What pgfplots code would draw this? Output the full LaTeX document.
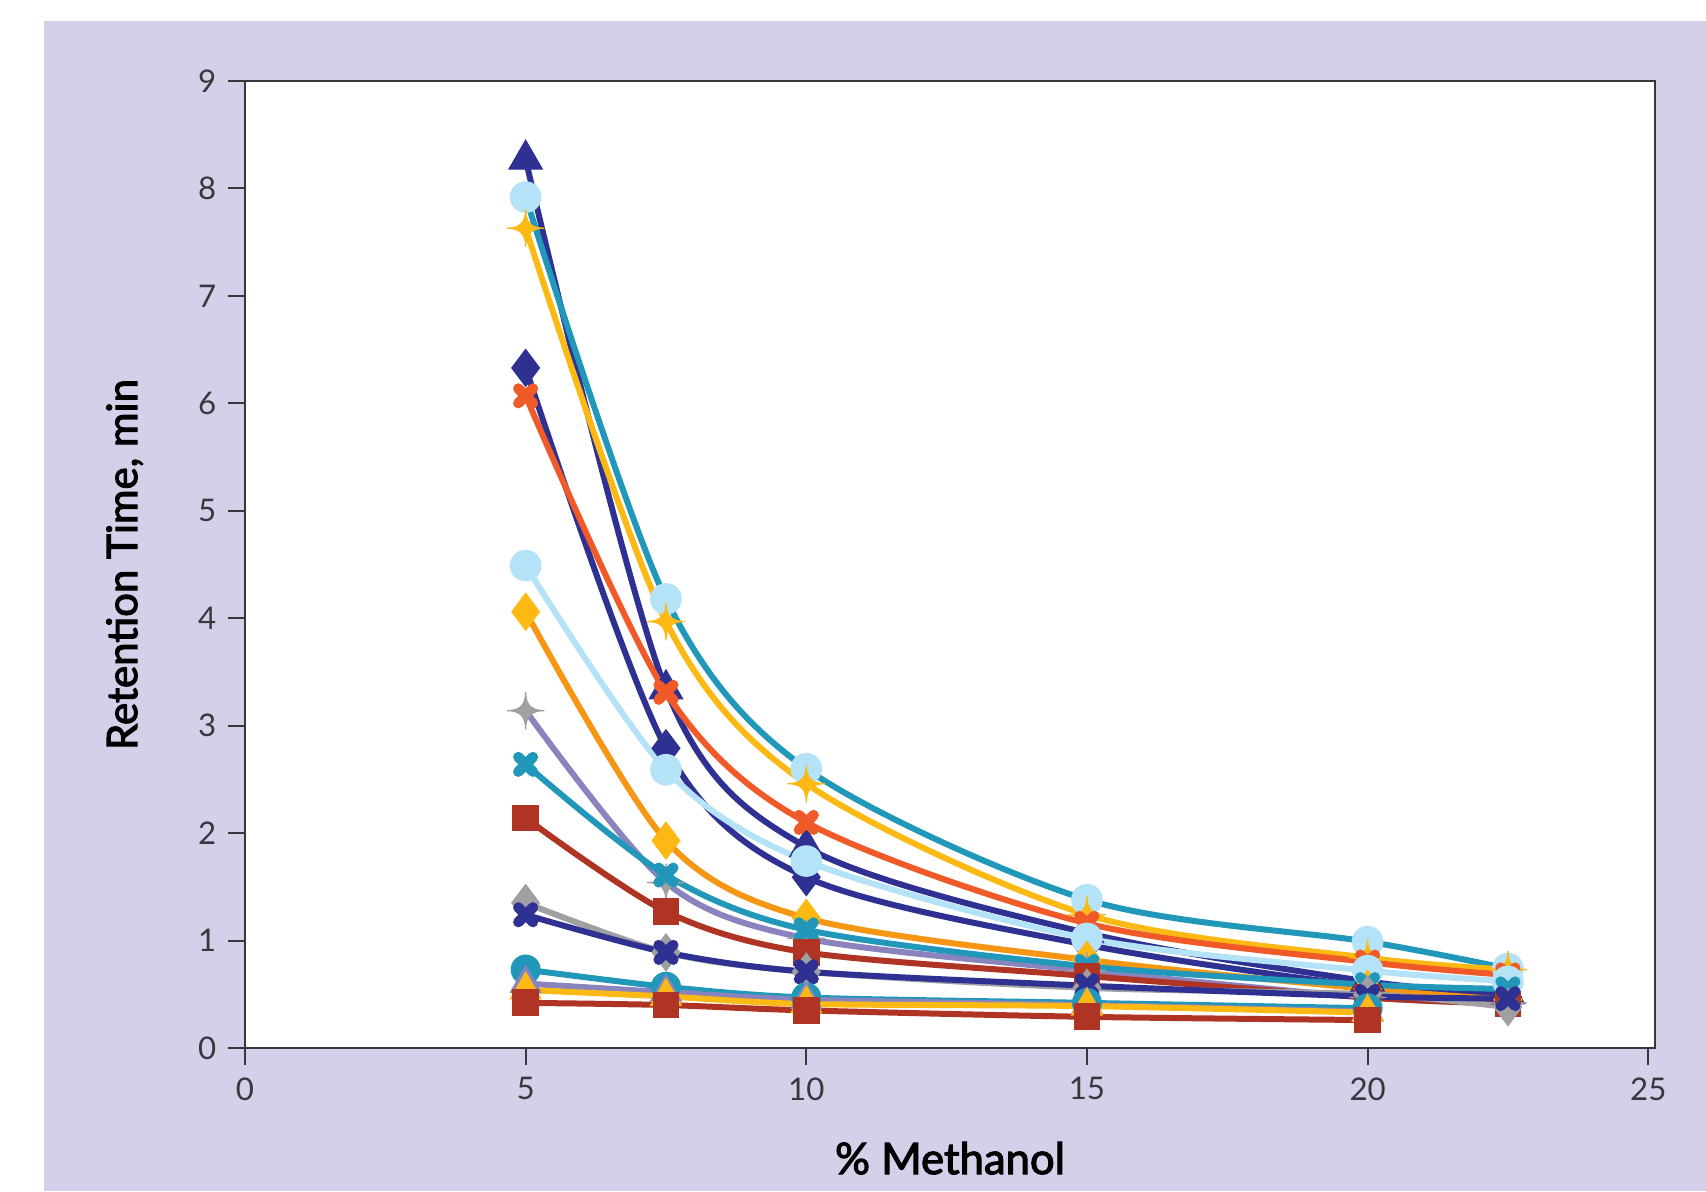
\documentclass[border=0pt]{standalone}
\usepackage{fontspec}
\setmainfont{Lato}
\newfontfamily\labfont{Lato}[FakeBold=2.6]
\usepackage{pgfplots}
\pgfplotsset{compat=1.18}
\definecolor{navy}{RGB}{46,49,146}
\definecolor{teal1}{RGB}{33,152,186}
\definecolor{lblue}{RGB}{180,226,247}
\definecolor{gold}{RGB}{253,185,19}
\definecolor{orng}{RGB}{245,150,20}
\definecolor{ored}{RGB}{240,90,40}
\definecolor{rbrown}{RGB}{175,52,35}
\definecolor{greyc}{RGB}{160,160,163}
\definecolor{lav}{RGB}{137,132,190}
\definecolor{bg}{RGB}{211,209,233}
\definecolor{axc}{RGB}{55,55,60}
\pgfdeclareplotmark{star4}{%
 \pgfpathmoveto{\pgfqpoint{0pt}{\pgfplotmarksize}}%
 \pgfpathcurveto{\pgfqpoint{0pt}{0.3\pgfplotmarksize}}{\pgfqpoint{0.3\pgfplotmarksize}{0pt}}{\pgfqpoint{\pgfplotmarksize}{0pt}}%
 \pgfpathcurveto{\pgfqpoint{0.3\pgfplotmarksize}{0pt}}{\pgfqpoint{0pt}{-0.3\pgfplotmarksize}}{\pgfqpoint{0pt}{-\pgfplotmarksize}}%
 \pgfpathcurveto{\pgfqpoint{0pt}{-0.3\pgfplotmarksize}}{\pgfqpoint{-0.3\pgfplotmarksize}{0pt}}{\pgfqpoint{-\pgfplotmarksize}{0pt}}%
 \pgfpathcurveto{\pgfqpoint{-0.3\pgfplotmarksize}{0pt}}{\pgfqpoint{0pt}{0.3\pgfplotmarksize}}{\pgfqpoint{0pt}{\pgfplotmarksize}}%
 \pgfpathclose\pgfusepathqfillstroke}
\begin{document}
\begin{tikzpicture}
\path[use as bounding box] (-61.25pt,-35.75pt) rectangle (365.25pt,262pt);
\fill[bg] (-50.25pt,-35.75pt) rectangle (365.25pt,256.75pt);
\begin{axis}[
  at={(0pt,0pt)}, anchor=south west,
  scale only axis, width=352.5pt, height=241.75pt,
  xmin=0, xmax=25.12, ymin=0, ymax=9,
  xtick={0,5,10,15,20,25}, ytick={0,1,...,9},
  xtick pos=bottom, ytick pos=left,
  tick align=outside, major tick length=4.25pt,
  axis line style={axc, line width=0.7pt},
  tick style={axc, line width=0.5pt},
  axis background/.style={fill=white},
  /pgf/number format/assume math mode=true,
  ticklabel style={font=\fontsize{7.8}{9}\selectfont, text=axc},
  xticklabel style={yshift=0.4pt},
  yticklabel style={xshift=0.6pt},
  xlabel={\labfont\fontsize{10.9}{12}\selectfont\% Methanol}, ylabel={\labfont\fontsize{10.5}{12}\selectfont Retention Time, min},
  label style={text=black!85},
  every axis x label/.style={at={(axis description cs:0.5,-0.114)}, anchor=center},
  every axis y label/.style={at={(axis description cs:-0.0854,0.5)}, anchor=center, rotate=90},
  every axis plot/.append style={line width=1.5pt, smooth},
  clip=false,
]
% S1 navy triangle
\addplot[navy, mark=triangle*, mark size=4.8pt, mark options={solid, line width=0.3pt}] coordinates {(5,8.27) (7.5,3.34) (10,1.87) (15,1.07) (20,0.62) (22.5,0.50)};
% S2 teal line, light blue circle
\addplot[teal1, mark=*, mark size=3.8pt, mark options={solid, fill=lblue, draw=lblue, line width=0.3pt}] coordinates {(5,7.92) (7.5,4.18) (10,2.60) (15,1.38) (20,0.99) (22.5,0.74)};
% S3 gold star
\addplot[gold, mark=star4, mark size=4.7pt, mark options={solid, fill=gold, draw=gold, line width=0.3pt}] coordinates {(5,7.63) (7.5,3.97) (10,2.46) (15,1.24) (20,0.84) (22.5,0.73)};
% S4 navy diamond
\addplot[navy, mark=diamond*, mark size=4.6pt, mark options={solid, line width=0.3pt}] coordinates {(5,6.33) (7.5,2.79) (10,1.59) (15,0.96) (20,0.57) (22.5,0.47)};
% S5 orange-red x
\addplot[ored, mark=x, mark size=2.6pt, mark options={solid, line width=2.6pt, line cap=round}] coordinates {(5,6.07) (7.5,3.31) (10,2.10) (15,1.16) (20,0.80) (22.5,0.68)};
% S6 light blue circle
\addplot[lblue, mark=*, mark size=3.8pt, mark options={solid, fill=lblue, draw=lblue, line width=0.3pt}] coordinates {(5,4.49) (7.5,2.59) (10,1.74) (15,1.02) (20,0.72) (22.5,0.62)};
% S7 orange line gold diamond
\addplot[orng, mark=diamond*, mark size=4.6pt, mark options={solid, fill=gold, draw=gold, line width=0.3pt}] coordinates {(5,4.06) (7.5,1.93) (10,1.21) (15,0.82) (20,0.55) (22.5,0.45)};
% S8 lavender line grey star
\addplot[lav, mark=star4, mark size=4.7pt, mark options={solid, fill=greyc, draw=greyc, line width=0.3pt}] coordinates {(5,3.14) (7.5,1.54) (10,1.02) (15,0.72) (20,0.47) (22.5,0.42)};
% S9 teal x
\addplot[teal1, mark=x, mark size=2.6pt, mark options={solid, line width=2.6pt, line cap=round}] coordinates {(5,2.64) (7.5,1.61) (10,1.10) (15,0.76) (20,0.59) (22.5,0.55)};
% S10 red-brown square
\addplot[rbrown, mark=square*, mark size=3.2pt, mark options={solid, line width=0.3pt}] coordinates {(5,2.14) (7.5,1.27) (10,0.89) (15,0.67) (20,0.47) (22.5,0.41)};
% S11 grey diamond
\addplot[greyc, mark=diamond*, mark size=4.6pt, mark options={solid, line width=0.3pt}] coordinates {(5,1.35) (7.5,0.89) (10,0.71) (15,0.56) (20,0.50) (22.5,0.38)};
% S12 navy x
\addplot[navy, mark=x, mark size=2.6pt, mark options={solid, line width=2.6pt, line cap=round}] coordinates {(5,1.24) (7.5,0.89) (10,0.71) (15,0.58) (20,0.48) (22.5,0.46)};
% S13 teal circle
\addplot[teal1, mark=*, mark size=3.6pt, mark options={solid, line width=0.3pt}] coordinates {(5,0.73) (7.5,0.57) (10,0.47) (15,0.42) (20,0.37)};
% S14 lavender triangle
\addplot[lav, mark=triangle*, mark size=4.4pt, mark options={solid, line width=0.3pt}] coordinates {(5,0.60) (7.5,0.52) (10,0.45) (15,0.40) (20,0.34)};
% S15 gold triangle
\addplot[gold, mark=triangle*, mark size=4.4pt, mark options={solid, line width=0.3pt}] coordinates {(5,0.54) (7.5,0.48) (10,0.41) (15,0.39) (20,0.33)};
% S16 red-brown square low
\addplot[rbrown, mark=square*, mark size=3.2pt, mark options={solid, line width=0.3pt}] coordinates {(5,0.42) (7.5,0.40) (10,0.35) (15,0.29) (20,0.26)};
\end{axis}
\end{tikzpicture}
\end{document}
